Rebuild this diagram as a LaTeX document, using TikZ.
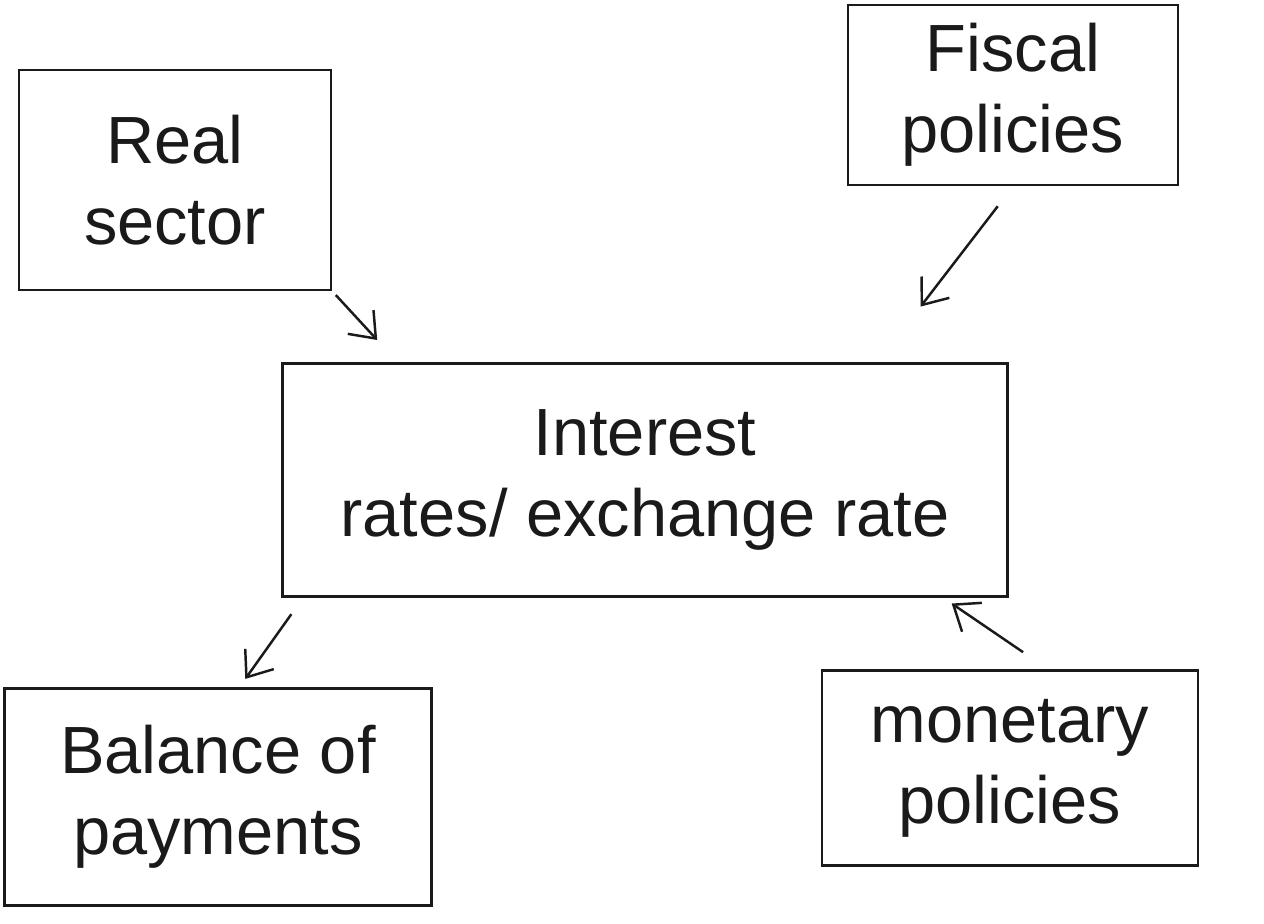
\documentclass[tikz,border=0pt]{standalone}
\usepackage{fontspec}
\setmainfont{Liberation Sans}
\usetikzlibrary{positioning,arrows.meta,calc}
\definecolor{ink}{HTML}{1A1A1A}

\begin{document}
\begin{tikzpicture}[font=\fontsize{38}{46}\selectfont,
  n/.style={draw=ink, line width=1.6pt, fill=white, align=center,
            inner sep=0pt, text=ink},
  arr/.style={-{Straight Barb[length=4.5mm,width=7mm,line width=1.4pt]},
              draw=ink, line width=1.4pt},
]
\useasboundingbox[fill=white] (0,0) rectangle (25.28,18.48);
\node[n, minimum width=6.24cm, minimum height=4.4cm] (real) at (3.5, 14.88)
  {Real\\sector};
\node[n, minimum width=6.6cm, minimum height=3.6cm] (fisc) at (20.26, 16.58)
  {Fiscal\\policies};
\node[n, minimum width=14.5cm, minimum height=4.66cm] (rate) at (12.9, 8.88)
  {Interest\\rates/ exchange rate};
\node[n, minimum width=8.54cm, minimum height=4.34cm] (bop) at (4.36, 2.54)
  {Balance of\\payments};
\node[n, minimum width=7.52cm, minimum height=3.9cm] (mon) at (20.2, 3.12)
  {monetary\\policies};
\draw[arr, shorten <=1mm, shorten >=6mm] (real.south east)
  -- ($(rate.north west)!0.16!(rate.north east)$);
\draw[arr, shorten <=5mm, shorten >=14mm] (fisc.south)
  -- ($(rate.north west)!0.82!(rate.north east)$);
\draw[arr, shorten <=4mm, shorten >=2mm] ($(rate.south west)!0.03!(rate.south east)$)
  -- ($(bop.north west)!0.55!(bop.north east)$);
\draw[arr, shorten <=6mm, shorten >=2mm] ($(mon.north west)!0.6!(mon.north east)$)
  -- ($(rate.south east)!0.09!(rate.south west)$);
\end{tikzpicture}
\end{document}
